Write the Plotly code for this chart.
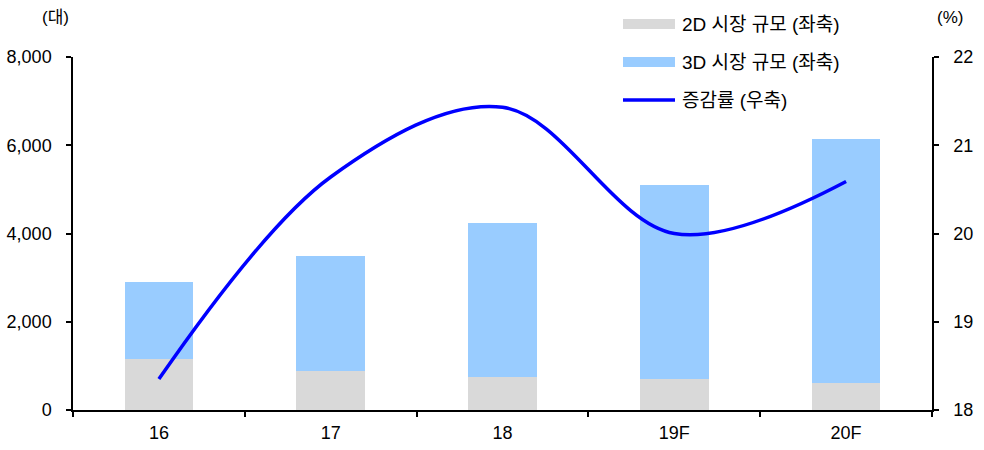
import plotly.graph_objects as go

# Market size by year (units) and growth rate (%)
years = ["16", "17", "18", "19F", "20F"]
market_2d = [1160, 880, 750, 700, 620]
market_total = [2900, 3500, 4230, 5100, 6150]
market_3d = [t - d for t, d in zip(market_total, market_2d)]
growth = [18.35, 20.64, 21.43, 20.0, 20.59]

left_ticks = [0, 2000, 4000, 6000, 8000]
right_ticks = [18, 19, 20, 21, 22]

legend_names = ["2D 시장 규모 (좌축)", "3D 시장 규모 (좌축)", "증감률 (우축)"]
colors = ["#D9D9D9", "#99CCFF", "#0000FF"]

FONT = "Liberation Sans, Arial, Noto Sans CJK KR, sans-serif"

fig = go.Figure()
fig.add_trace(go.Bar(x=years, y=market_2d, marker_color=colors[0],
                     marker_line_width=0, width=0.4, name=legend_names[0]))
fig.add_trace(go.Bar(x=years, y=market_3d, marker_color=colors[1],
                     marker_line_width=0, width=0.4, name=legend_names[1]))
fig.add_trace(go.Scatter(x=years, y=growth, yaxis="y2", mode="lines",
                         line=dict(color=colors[2], width=3.5, shape="spline",
                                   smoothing=1.0),
                         name=legend_names[2]))

axis_common = dict(showline=True, linecolor="black", linewidth=1.5,
                   ticks="outside", ticklen=5, tickwidth=1.5,
                   tickcolor="black", showgrid=False, zeroline=False,
                   automargin=False)

fig.update_layout(
    width=984, height=450,
    margin=dict(l=73, r=52, t=57, b=40),
    barmode="stack",
    plot_bgcolor="white", paper_bgcolor="white",
    font=dict(family=FONT, size=18, color="#000000"),
    showlegend=False,
    xaxis=dict(type="category", tickson="boundaries", ticklabelstandoff=6,
               tickfont=dict(size=18), **axis_common),
    yaxis=dict(range=[0, 8000], tickvals=left_ticks, tickformat=",d",
               ticklabelstandoff=11, tickfont=dict(size=18), **axis_common),
    yaxis2=dict(range=[18, 22], tickvals=right_ticks, overlaying="y",
                side="right", ticklabelstandoff=11, tickfont=dict(size=18),
                **axis_common),
)

# Axis unit labels
annotations = [
    dict(x=0, y=1, xref="paper", yref="paper", xshift=-18, yshift=40,
         xanchor="center", yanchor="middle",
         text="(대)", showarrow=False, font=dict(size=17)),
    dict(x=1, y=1, xref="paper", yref="paper", xshift=18, yshift=40,
         xanchor="center", yanchor="middle",
         text="(%)", showarrow=False, font=dict(size=17)),
]

# Legend drawn as wide swatches with labels
legend_y = [24, 62, 100]
plot_h = 450 - 57 - 40
plot_w = 984 - 73 - 52
shapes = []
for i, (name, col) in enumerate(zip(legend_names, colors)):
    yc = 1 - (legend_y[i] - 57) / plot_h
    x0 = (623 - 73) / plot_w
    x1 = (675 - 73) / plot_w
    if i < 2:
        h = 10 / plot_h
        shapes.append(dict(type="rect", xref="paper", yref="paper",
                           x0=x0, x1=x1, y0=yc - h / 2, y1=yc + h / 2,
                           fillcolor=col, line=dict(width=0)))
    else:
        shapes.append(dict(type="line", xref="paper", yref="paper",
                           x0=x0, x1=x1, y0=yc, y1=yc,
                           line=dict(color=col, width=3.5)))
    annotations.append(dict(x=(680 - 73) / plot_w, y=yc, xref="paper",
                            yref="paper", xanchor="left", yanchor="middle",
                            text=name, showarrow=False, font=dict(size=19)))

fig.update_layout(annotations=annotations, shapes=shapes)

fig.write_html("out.html")
